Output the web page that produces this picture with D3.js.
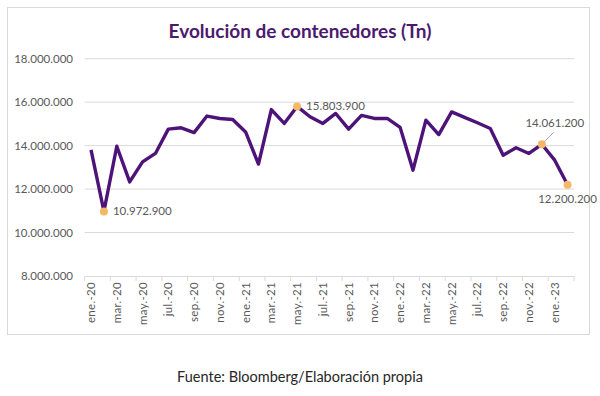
<!DOCTYPE html>
<html>
<head>
<meta charset="utf-8">
<script src="https://cdn.jsdelivr.net/npm/d3@7"></script>
<style>
  body { margin: 0; background: #fff; }
  svg { display: block; font-family: Lato, "Open Sans", sans-serif; }
</style>
</head>
<body>
<div id="main"></div>
<script>
const ctx = {
    WIDTH: 600,
    HEIGHT: 396,
};

// monthly categories, ene.-20 .. feb.-23
const months = [
    "ene.-20", "feb.-20", "mar.-20", "abr.-20", "may.-20", "jun.-20", "jul.-20", "ago.-20", "sep.-20", "oct.-20", "nov.-20", "dic.-20",
    "ene.-21", "feb.-21", "mar.-21", "abr.-21", "may.-21", "jun.-21", "jul.-21", "ago.-21", "sep.-21", "oct.-21", "nov.-21", "dic.-21",
    "ene.-22", "feb.-22", "mar.-22", "abr.-22", "may.-22", "jun.-22", "jul.-22", "ago.-22", "sep.-22", "oct.-22", "nov.-22", "dic.-22",
    "ene.-23", "feb.-23"
];

// tonnes
const tonnes = [
    13800000, 10972900, 13970000, 12330000, 13250000, 13640000, 14760000, 14820000, 14600000, 15360000, 15250000, 15200000,
    14630000, 13150000, 15660000, 15020000, 15803900, 15330000, 15020000, 15480000, 14760000, 15390000, 15250000, 15250000,
    14840000, 12870000, 15170000, 14510000, 15550000, 15300000, 15050000, 14790000, 13560000, 13900000, 13640000, 14061200,
    13330000, 12200200
];

const yTicks = [8000000, 10000000, 12000000, 14000000, 16000000, 18000000];

// highlighted points
const highlights = [
    { month: "feb.-20", place: "right" },
    { month: "may.-21", place: "right" },
    { month: "dic.-22", place: "leader" },
    { month: "feb.-23", place: "below" },
];

const titleText = "Evolución de contenedores (Tn)";
const sourceText = "Fuente: Bloomberg/Elaboración propia";

const locale = d3.formatLocale({ decimal: ",", thousands: ".", grouping: [3], currency: ["", ""] });
const fmt = locale.format(",d");

function createChart() {
    const svg = d3.select("#main").append("svg")
        .attr("width", ctx.WIDTH)
        .attr("height", ctx.HEIGHT);

    // chart frame
    svg.append("rect")
        .attr("x", 7.5).attr("y", 7.5)
        .attr("width", 582).attr("height", 327)
        .attr("fill", "#fff")
        .attr("stroke", "#d9d9d9");

    const plot = { left: 84.6, right: 574, top: 58.7, bottom: 276 };

    const x = d3.scaleBand()
        .domain(months)
        .range([plot.left, plot.right]);

    const y = d3.scaleLinear()
        .domain([8000000, 18000000])
        .range([plot.bottom, plot.top]);

    const cx = m => x(m) + x.bandwidth() / 2;

    // gridlines
    svg.append("g")
        .selectAll("line")
        .data(yTicks.slice(1))
        .join("line")
        .attr("x1", plot.left).attr("x2", plot.right)
        .attr("y1", d => y(d)).attr("y2", d => y(d))
        .attr("stroke", "#d9d9d9")
        .attr("stroke-width", 1);

    // y labels
    svg.append("g")
        .selectAll("text")
        .data(yTicks)
        .join("text")
        .attr("x", 73)
        .attr("y", d => y(d))
        .attr("dy", "0.35em")
        .attr("text-anchor", "end")
        .attr("fill", "#595959")
        .style("font-size", "11.5px")
        .text(d => fmt(d));

    // x axis: labels every 2 months, ticks between categories
    const xAxis = d3.axisBottom(x)
        .tickValues(months.filter((d, i) => i % 2 === 0))
        .tickSize(0)
        .tickFormat(d => d);

    const gx = svg.append("g")
        .attr("transform", `translate(0,${plot.bottom})`)
        .call(xAxis);
    gx.select(".domain").attr("stroke", "#d9d9d9");
    gx.selectAll("text")
        .attr("fill", "#595959")
        .style("font-family", "Lato, 'Open Sans', sans-serif")
        .style("font-size", "11.5px")
        .style("letter-spacing", "0.3px")
        .attr("text-anchor", "end")
        .attr("transform", "rotate(-90)")
        .attr("x", -6)
        .attr("y", 0)
        .attr("dy", "0.35em");

    const boundaries = months.filter((d, i) => i % 2 === 0).map(m => x(m)).concat([plot.right]);
    svg.append("g")
        .selectAll("line")
        .data(boundaries)
        .join("line")
        .attr("x1", d => d).attr("x2", d => d)
        .attr("y1", plot.bottom).attr("y2", plot.bottom + 5)
        .attr("stroke", "#d9d9d9");

    // line
    const line = d3.line()
        .x((d, i) => cx(months[i]))
        .y(d => y(d));

    svg.append("path")
        .datum(tonnes)
        .attr("d", line)
        .attr("fill", "none")
        .attr("stroke", "#4d1379")
        .attr("stroke-width", 3.4)
        .attr("stroke-linejoin", "round");

    // highlighted markers and labels
    highlights.forEach(h => {
        const i = months.indexOf(h.month);
        const px = cx(h.month);
        const py = y(tonnes[i]);
        svg.append("circle")
            .attr("cx", px).attr("cy", py)
            .attr("r", 4)
            .attr("fill", "#f5b866");

        const label = svg.append("text")
            .attr("fill", "#595959")
            .style("font-size", "11.5px")
            .text(fmt(tonnes[i]));

        if (h.place === "right") {
            label.attr("x", px + 9).attr("y", py).attr("dy", "0.35em");
        } else if (h.place === "below") {
            label.attr("x", px).attr("y", py + 18).attr("text-anchor", "middle");
        } else {
            svg.append("line")
                .attr("x1", px + 2).attr("y1", py - 2)
                .attr("x2", px + 12).attr("y2", py - 12)
                .attr("stroke", "#a6a6a6");
            label.attr("x", px + 13).attr("y", py - 17).attr("text-anchor", "middle");
        }
    });

    // title
    svg.append("text")
        .attr("x", 300).attr("y", 38)
        .attr("text-anchor", "middle")
        .attr("fill", "#4b1a6e")
        .style("font-size", "19px")
        .style("font-weight", "bold")
        .text(titleText);

    // source
    svg.append("text")
        .attr("x", 300).attr("y", 382)
        .attr("text-anchor", "middle")
        .attr("fill", "#262626")
        .style("font-size", "14.5px")
        .text(sourceText);
}

createChart();
</script>
</body>
</html>
